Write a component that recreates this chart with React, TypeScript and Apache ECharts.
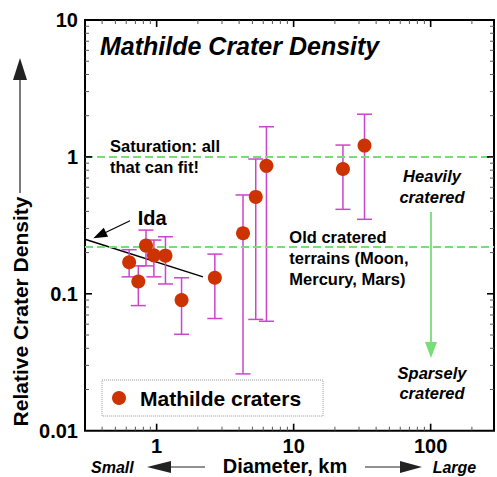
import React, { useEffect, useRef } from 'react';
import * as echarts from 'echarts';

// Mathilde crater counts: diameter (km) vs relative density, with error ranges
const diameterKm = [0.63, 0.735, 0.836, 0.955, 1.16, 1.52, 2.66, 4.27, 5.29, 6.33, 22.9, 32.9];
const density = [0.17, 0.123, 0.225, 0.191, 0.19, 0.09, 0.131, 0.277, 0.51, 0.86, 0.816, 1.21];
const densityHigh = [0.21, 0.16, 0.292, 0.247, 0.261, 0.131, 0.195, 0.527, 0.965, 1.66, 1.22, 2.05];
const densityLow = [0.133, 0.082, 0.16, 0.133, 0.118, 0.0506, 0.066, 0.026, 0.065, 0.063, 0.414, 0.35];

// Ida trend line
const idaDiameter = [0.3, 2.18];
const idaDensity = [0.25, 0.133];

// Saturation and old cratered terrain levels
const referenceLevels = [1, 0.22];

// Axis ranges and ticks
const xRange = [0.3, 290];
const yRange = [0.01, 10];
const xTickLabels = ['1', '10', '100'];
const yTickLabels = ['0.01', '0.1', '1', '10'];
const xMajorTicks = [1, 10, 100];
const yMajorTicks = [0.1, 1];
const mantissas = [2, 3, 4, 5, 6, 7, 8, 9];
const xMinorTicks = [0.1, 1, 10, 100]
  .flatMap((d) => mantissas.map((m) => +(m * d).toPrecision(3)))
  .filter((v) => v > xRange[0] && v < xRange[1]);
const yMinorTicks = [0.01, 0.1, 1]
  .flatMap((d) => mantissas.map((m) => +(m * d).toPrecision(3)))
  .filter((v) => v > yRange[0] && v < yRange[1]);

const FAMILY = "'Liberation Sans', Arial, Helvetica, sans-serif";
const RED = '#cc3300';
const MAGENTA = '#cc44cc';
const GREEN = '#77dd77';

const pickLabel = (labels: string[]) => (v: number) => {
  const hit = labels.find((l) => Math.abs(Math.log10(parseFloat(l)) - Math.log10(v)) < 1e-6);
  return hit ?? '';
};

const txt = (
  text: string,
  x: number,
  y: number,
  size: number,
  opts: { italic?: boolean; align?: string; lineHeight?: number; rotation?: number; fill?: string } = {}
) => ({
  type: 'text',
  x,
  y,
  rotation: opts.rotation ?? 0,
  silent: true,
  style: {
    text,
    fontFamily: FAMILY,
    fontSize: size,
    fontWeight: 'bold',
    fontStyle: opts.italic ? 'italic' : 'normal',
    fill: opts.fill ?? '#000',
    textAlign: opts.align ?? 'left',
    textVerticalAlign: 'middle',
    lineHeight: opts.lineHeight ?? size,
  },
});

const arrowHead = (tip: number[], from: number[], len: number, half: number, color: string) => {
  const dx = tip[0] - from[0];
  const dy = tip[1] - from[1];
  const n = Math.hypot(dx, dy);
  const ux = dx / n;
  const uy = dy / n;
  const bx = tip[0] - ux * len;
  const by = tip[1] - uy * len;
  return {
    type: 'polygon',
    silent: true,
    shape: { points: [tip, [bx - uy * half, by + ux * half], [bx + uy * half, by - ux * half]] },
    style: { fill: color },
  };
};

const arrow = (from: number[], tip: number[], len: number, half: number, color: string, width: number) => {
  const dx = tip[0] - from[0];
  const dy = tip[1] - from[1];
  const n = Math.hypot(dx, dy);
  const end = [tip[0] - (dx / n) * (len - 1), tip[1] - (dy / n) * (len - 1)];
  return [
    {
      type: 'line',
      silent: true,
      shape: { x1: from[0], y1: from[1], x2: end[0], y2: end[1] },
      style: { stroke: color, lineWidth: width },
    },
    arrowHead(tip, from, len, half, color),
  ];
};

export default function App() {
  const ref = useRef<HTMLDivElement>(null);

  useEffect(() => {
    if (!ref.current) return;
    const chart = echarts.init(ref.current, undefined, { renderer: 'svg' });

    const points = diameterKm.map((d, i) => [d, density[i]]);
    const errors = diameterKm.map((d, i) => [d, densityLow[i], densityHigh[i]]);
    const ticks = [
      ...xMajorTicks.map((v) => [v, 1, 0]),
      ...xMinorTicks.map((v) => [v, 1, 1]),
      ...yMajorTicks.map((v) => [1, v, 2]),
      ...yMinorTicks.map((v) => [1, v, 3]),
    ];

    chart.setOption({
      animation: false,
      backgroundColor: '#fff',
      grid: {
        left: 85,
        top: 20,
        width: 409,
        height: 410.7,
        show: true,
        borderColor: '#000',
        borderWidth: 2,
        backgroundColor: 'transparent',
      },
      xAxis: {
        type: 'log',
        min: xRange[0],
        max: xRange[1],
        axisLine: { show: false },
        axisTick: { show: false },
        splitLine: { show: false },
        minorTick: { show: false },
        axisLabel: {
          formatter: pickLabel(xTickLabels),
          fontFamily: FAMILY,
          fontWeight: 'bold',
          fontSize: 20,
          color: '#000',
          margin: 5,
          showMinLabel: false,
          showMaxLabel: false,
        },
      },
      yAxis: {
        type: 'log',
        min: yRange[0],
        max: yRange[1],
        axisLine: { show: false },
        axisTick: { show: false },
        splitLine: { show: false },
        minorTick: { show: false },
        axisLabel: {
          formatter: pickLabel(yTickLabels),
          fontFamily: FAMILY,
          fontWeight: 'bold',
          fontSize: 20,
          color: '#000',
          margin: 7,
        },
      },
      legend: {
        left: 102,
        top: 380,
        orient: 'horizontal',
        padding: [6, 22, 6, 10],
        borderColor: '#999',
        borderWidth: 1,
        borderType: 'dotted',
        itemWidth: 14,
        itemHeight: 14,
        icon: 'circle',
        selectedMode: false,
        data: ['Mathilde craters'],
        textStyle: {
          fontFamily: FAMILY,
          fontWeight: 'bold',
          fontSize: 21,
          color: '#000',
          lineHeight: 24,
          padding: [0, 0, 0, 9],
        },
      },
      series: [
        {
          name: 'ticks',
          type: 'custom',
          silent: true,
          z: 5,
          data: ticks,
          renderItem: (params: any, api: any) => {
            const cs = params.coordSys;
            const kind = api.value(2);
            const major = kind === 0 || kind === 2;
            const len = major ? 7 : 4;
            const style = { stroke: major ? '#000' : '#555', lineWidth: major ? 1.6 : 1 };
            if (kind < 2) {
              const px = api.coord([api.value(0), 1])[0];
              const b = cs.y + cs.height;
              return {
                type: 'group',
                children: [
                  { type: 'line', shape: { x1: px, y1: b, x2: px, y2: b - len }, style },
                  { type: 'line', shape: { x1: px, y1: cs.y, x2: px, y2: cs.y + len }, style },
                ],
              };
            }
            const py = api.coord([1, api.value(1)])[1];
            const r = cs.x + cs.width;
            return {
              type: 'group',
              children: [
                { type: 'line', shape: { x1: cs.x, y1: py, x2: cs.x + len, y2: py }, style },
                { type: 'line', shape: { x1: r, y1: py, x2: r - len, y2: py }, style },
              ],
            };
          },
        },
        {
          name: 'Ida',
          type: 'line',
          data: idaDiameter.map((d, i) => [d, idaDensity[i]]),
          symbol: 'none',
          silent: true,
          z: 3,
          lineStyle: { color: '#000', width: 1.5 },
          markLine: {
            silent: true,
            symbol: ['none', 'none'],
            label: { show: false },
            lineStyle: { color: GREEN, type: [8, 4], width: 2 },
            data: referenceLevels.map((v) => ({ yAxis: v })),
          },
        },
        {
          name: 'error bars',
          type: 'custom',
          silent: true,
          z: 4,
          data: errors,
          renderItem: (params: any, api: any) => {
            const x = api.value(0);
            const lo = api.coord([x, api.value(1)]);
            const hi = api.coord([x, api.value(2)]);
            const style = { stroke: MAGENTA, lineWidth: 1.5 };
            const half = 7.5;
            return {
              type: 'group',
              children: [
                { type: 'line', shape: { x1: hi[0], y1: hi[1], x2: lo[0], y2: lo[1] }, style },
                { type: 'line', shape: { x1: hi[0] - half, y1: hi[1], x2: hi[0] + half, y2: hi[1] }, style },
                { type: 'line', shape: { x1: lo[0] - half, y1: lo[1], x2: lo[0] + half, y2: lo[1] }, style },
              ],
            };
          },
        },
        {
          name: 'Mathilde craters',
          type: 'scatter',
          data: points,
          symbol: 'circle',
          symbolSize: 14,
          z: 6,
          itemStyle: { color: RED, opacity: 1 },
        },
      ],
      graphic: [
        txt('Mathilde Crater Density', 100, 46, 25, { italic: true }),
        txt('Saturation: all\nthat can fit!', 110, 156.2, 16.5, { lineHeight: 21 }),
        txt('Old cratered\nterrains (Moon,\nMercury, Mars)', 289.3, 258.3, 16.5, { lineHeight: 21 }),
        txt('Heavily\ncratered', 432, 186.3, 16.5, { italic: true, align: 'center', lineHeight: 20.7 }),
        txt('Sparsely\ncratered', 432, 382.7, 16.5, { italic: true, align: 'center', lineHeight: 20 }),
        txt('Ida', 137.7, 218.3, 20),
        txt('Relative Crater Density', 20, 311.5, 21, { align: 'center', rotation: Math.PI / 2 }),
        txt('Small', 91, 467, 16, { italic: true }),
        txt('Diameter, km', 222.7, 466, 20),
        txt('Large', 432.7, 467, 16, { italic: true }),
        ...arrow([20, 193], [20, 58], 22, 7, '#222', 1.2),
        ...arrow([205, 467], [147, 467], 24, 6, '#222', 1.2),
        ...arrow([365, 467], [422, 467], 22, 6, '#222', 1.2),
        ...arrow([130, 220.7], [93.3, 238.3], 14, 5, '#000', 1.2),
        ...arrow([431, 212], [431, 358], 16, 6, GREEN, 1.8),
      ],
    });

    return () => chart.dispose();
  }, []);

  return (
    <div
      ref={ref}
      style={{ position: 'fixed', left: 0, top: 0, width: 497, height: 477, background: '#fff' }}
    />
  );
}
